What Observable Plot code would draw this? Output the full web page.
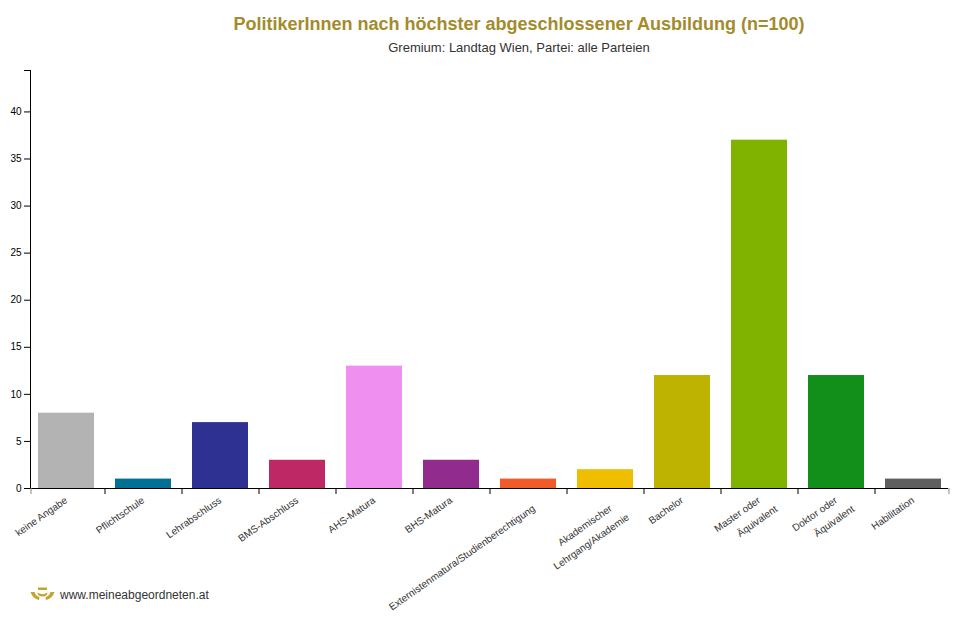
<!DOCTYPE html>
<html>
<head>
<meta charset="utf-8">
<script src="https://cdn.jsdelivr.net/npm/d3@7"></script>
<script src="https://cdn.jsdelivr.net/npm/@observablehq/plot@0.6"></script>
<style>
  body { margin: 0; background: #fff; font-family: "Liberation Sans", Arial, sans-serif; }
  #wrap { position: relative; width: 965px; height: 621px; overflow: hidden; background: #fff; }
  #title { position: absolute; top: 15px; left: 519px; transform: translateX(-50%); white-space: nowrap;
           font-weight: bold; font-size: 18px; line-height: 18px; color: #a38b2c; }
  #sub { position: absolute; top: 41px; left: 519px; transform: translateX(-50%); white-space: nowrap;
         font-size: 13px; line-height: 13px; color: #333; }
  #chart { position: absolute; top: 58px; left: 0; }
  #foot { position: absolute; left: 30px; top: 587px; display: flex; align-items: center; gap: 5px;
          font-size: 12px; color: #333; }
</style>
</head>
<body>
<div id="wrap">
  <div id="title">PolitikerInnen nach höchster abgeschlossener Ausbildung (n=100)</div>
  <div id="sub">Gremium: Landtag Wien, Partei: alle Parteien</div>
  <div id="chart"></div>
  <div id="foot">
    <svg width="25" height="15" viewBox="0 0 25 15">
      <rect x="8" y="0.5" width="9" height="2.5" fill="#c4a431"/>
      <path d="M0.5 5 Q2.5 11.5 9 13 L9.5 10 Q5.5 9 4.5 5 Z" fill="#c4a431"/>
      <path d="M24.5 5 Q22.5 11.5 16 13 L15.5 10 Q19.5 9 20.5 5 Z" fill="#c4a431"/>
      <path d="M7.5 5.5 Q12.5 9 17.5 5.5 L17 8 Q12.5 11 8 8 Z" fill="#c4a431"/>
    </svg>
    <span>www.meineabgeordneten.at</span>
  </div>
</div>
<script>
// ---- data ----
const categories = ["keine Angabe", "Pflichtschule", "Lehrabschluss", "BMS-Abschluss", "AHS-Matura", "BHS-Matura",
  "Externistenmatura/Studienberechtigung", "Akademischer Lehrgang/Akademie", "Bachelor",
  "Master oder Äquivalent", "Doktor oder Äquivalent", "Habilitation"];
const values = [8, 1, 7, 3, 13, 3, 1, 2, 12, 37, 12, 1];
const colors = ["#b3b3b3", "#007095", "#2e3192", "#be2864", "#ef8fef", "#922b8e",
  "#f15a29", "#f0be00", "#bdb300", "#80b300", "#128f1a", "#5f5f5f"];
// wrapped tick labels (an empty first line where the original wrapping left one)
const labelLines = [["keine Angabe"], ["Pflichtschule"], ["Lehrabschluss"], ["BMS-Abschluss"], ["AHS-Matura"],
  ["BHS-Matura"], ["", "Externistenmatura/Studienberechtigung"], ["", "Akademischer", "Lehrgang/Akademie"],
  ["Bachelor"], ["Master oder", "Äquivalent"], ["Doktor oder", "Äquivalent"], ["Habilitation"]];
const yTicks = [0, 5, 10, 15, 20, 25, 30, 35, 40];

// ---- layout ----
const W = 965, H = 563, mL = 30, mR = 17, mT = 12, mB = 133;
const pInner = 21 / 77, pOuter = 0.0974;
const yMax = d3.max(values) * 1.2;

const data = categories.map((c, i) => ({cat: c, value: values[i]}));

const band = d3.scaleBand(categories, [mL, W - mR]).paddingInner(pInner).paddingOuter(pOuter);
const half = band.step() / 2;
const edge = band(categories[0]) + band.bandwidth() / 2 - mL;

// label rows
const rows = [];
categories.forEach((c, i) => {
  let seen = false;
  labelLines[i].forEach((line, k) => {
    if (line) { rows.push({cat: c, line, k, cont: seen}); seen = true; }
  });
});

const ang = 35 * Math.PI / 180;
const perpStep = 10, contPerp = 7, contAlong = 9;
const baseDx = -2.5, baseDy = 7.5;
const labelMarks = [];
for (let k = 0; k < 3; k++) {
  for (const cont of [false, true]) {
    const sub = rows.filter(r => r.k === k && r.cont === cont);
    if (!sub.length) continue;
    const p = perpStep * k + (cont ? contPerp : 0);
    const a = cont ? contAlong : 0;
    labelMarks.push(Plot.text(sub, {
      x: "cat", text: "line", frameAnchor: "bottom", rotate: -35,
      textAnchor: "end", lineAnchor: "top", fontSize: 10, fill: "#333",
      dx: baseDx + p * Math.sin(ang) + a * Math.cos(ang),
      dy: baseDy + p * Math.cos(ang) - a * Math.sin(ang)
    }));
  }
}

const chart = Plot.plot({
  width: W, height: H,
  marginLeft: mL, marginRight: mR, marginTop: mT, marginBottom: mB,
  style: {fontFamily: "'Liberation Sans', Arial, sans-serif", background: "white", overflow: "visible"},
  x: {domain: categories, paddingInner: pInner, paddingOuter: pOuter, axis: null},
  y: {domain: [0, yMax], axis: null},
  color: {domain: categories, range: colors},
  marks: [
    Plot.barY(data, {x: "cat", y: "value", fill: "cat"}),
    Plot.axisY([...yTicks, yMax], {tickSize: 6, tickPadding: 3, fontSize: 10, color: "#000",
      tickFormat: d => yTicks.includes(d) ? String(d) : "", label: null}),
    Plot.frame({anchor: "left", stroke: "#000"}),
    Plot.ruleY([0], {stroke: "#000"}),
    Plot.axisX(categories.slice(0, -1), {tickSize: 6, dx: half, tickFormat: () => "", label: null, stroke: "#000"}),
    Plot.axisX([categories[0]], {tickSize: 6, dx: -edge, tickFormat: () => "", label: null, stroke: "#888"}),
    Plot.axisX([categories[categories.length - 1]], {tickSize: 6, dx: edge, tickFormat: () => "", label: null, stroke: "#888"}),
    ...labelMarks
  ]
});
document.getElementById("chart").appendChild(chart);
</script>
</body>
</html>
